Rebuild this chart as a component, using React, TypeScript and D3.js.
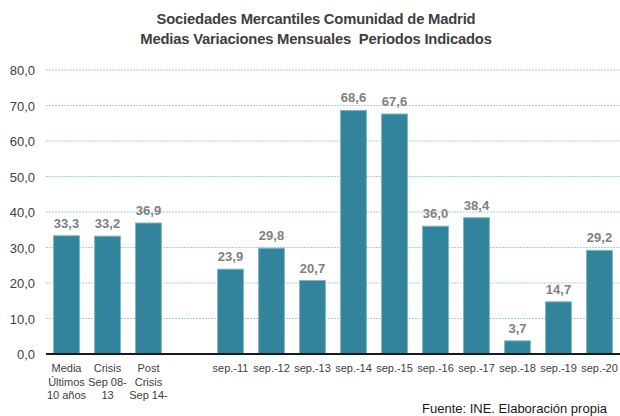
import React from "react";
import * as d3 from "d3";

const categories: string[][] = [
  ["Media", "Últimos", "10 años"],
  ["Crisis", "Sep 08-", "13"],
  ["Post", "Crisis", "Sep 14-"],
  [""],
  ["sep.-11"],
  ["sep.-12"],
  ["sep.-13"],
  ["sep.-14"],
  ["sep.-15"],
  ["sep.-16"],
  ["sep.-17"],
  ["sep.-18"],
  ["sep.-19"],
  ["sep.-20"],
];
const values: (number | null)[] = [33.3, 33.2, 36.9, null, 23.9, 29.8, 20.7, 68.6, 67.6, 36.0, 38.4, 3.7, 14.7, 29.2];
const yTicks: number[] = [0, 10, 20, 30, 40, 50, 60, 70, 80];
const titleLines: string[] = ["Sociedades Mercantiles Comunidad de Madrid", "Medias Variaciones Mensuales  Periodos Indicados"];
const source = "Fuente: INE. Elaboración propia";

const fmt = (v: number) => v.toFixed(1).replace(".", ",");

export default function App() {
  const W = 620, H = 416;
  const left = 46, right = 620, top = 70, bottom = 354;
  const x = d3.scaleBand<number>().domain(d3.range(categories.length)).range([left, right]).paddingInner(0.37).paddingOuter(0.185);
  const y = d3.scaleLinear().domain([0, 80]).range([bottom, top]);
  const font = "'Liberation Sans', Arial, sans-serif";
  return (
    <svg width={W} height={H} style={{ position: "absolute", left: 0, top: 0 }} fontFamily={font}>
      <rect width={W} height={H} fill="#fff" />
      {titleLines.map((t, i) => (
        <text key={i} x={316} y={24 + i * 19.5} textAnchor="middle" fontSize={14.8} fontWeight="bold" fill="#404040" letterSpacing={-0.2} style={{ whiteSpace: "pre" }}>{t}</text>
      ))}
      {yTicks.map((t) => (
        <g key={t}>
          {t > 0 && <line x1={left} x2={right} y1={y(t)} y2={y(t)} stroke="#9fd3e0" strokeDasharray="2,1" strokeWidth={1} />}
          <text x={35} y={y(t) + 5} textAnchor="end" fontSize={13} fill="#404040">{fmt(t)}</text>
        </g>
      ))}
      {values.map((v, i) => v === null ? null : (
        <g key={i}>
          <rect x={x(i)!} y={y(v)} width={x.bandwidth()} height={bottom - y(v)} fill="#31849b" stroke="#7fb5c5" strokeWidth={1} />
          <text x={x(i)! + x.bandwidth() / 2} y={y(v) - 8} textAnchor="middle" fontSize={13} fontWeight="bold" fill="#808080">{fmt(v)}</text>
        </g>
      ))}
      <line x1={left} x2={right} y1={bottom} y2={bottom} stroke="#1a1a1a" strokeWidth={2} />
      {categories.map((lines, i) => (
        <text key={i} x={x(i)! + x.bandwidth() / 2} textAnchor="middle" fontSize={11} fill="#404040">
          {lines.map((l, j) => (
            <tspan key={j} x={x(i)! + x.bandwidth() / 2} y={372 + j * 13.5}>{l}</tspan>
          ))}
        </text>
      ))}
      <text x={607} y={413} textAnchor="end" fontSize={13} fill="#1a1a1a">{source}</text>
    </svg>
  );
}
